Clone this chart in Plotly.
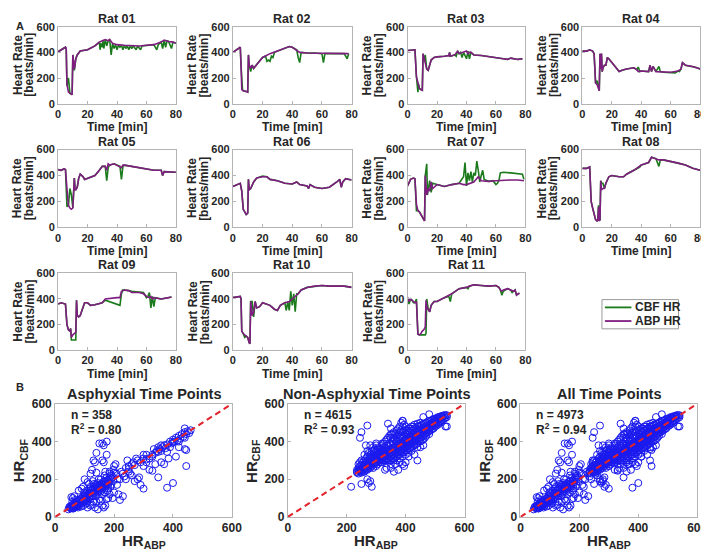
import plotly.graph_objects as go

# ---------------- data ----------------
rat_names = ["Rat 01", "Rat 02", "Rat 03", "Rat 04", "Rat 05", "Rat 06",
             "Rat 07", "Rat 08", "Rat 09", "Rat 10", "Rat 11"]
legend_names = ["CBF HR", "ABP HR"]

# (time [min], heart rate [beats/min]) pairs
rat01_abp = [(0,405),(3,425),(5,440),(5.5,430),(6,150),(7,90),(8,80),(9,75),(9.5,70),(10,380),(10.5,300),(11,270),(12,350),(13,380),(15,410),(20,420),(25,450),(28,480),(30,490),(32,500),(34,490),(35,500),(37,470),(40,460),(45,455),(50,450),(55,450),(60,455),(65,460),(70,480),(72,495),(75,485),(78,480),(80,470)]
rat01_cbf = [(0,405),(3,425),(5,440),(5.5,430),(6,140),(7,200),(7.5,150),(8,80),(9,75),(9.5,70),(10,380),(10.5,300),(11,260),(12,350),(13,380),(15,410),(20,420),(25,450),(28,480),(28.5,420),(29,470),(30,440),(30.5,490),(31,430),(32,500),(33,450),(34,490),(35,500),(36,380),(37,470),(38,430),(39,460),(40,420),(41,455),(42,440),(43,455),(44,420),(45,455),(46,430),(47,450),(48,420),(49,450),(50,430),(51,450),(53,420),(54,450),(56,420),(57,450),(60,455),(65,460),(67,420),(68,460),(70,480),(71,430),(72,495),(73,440),(74,490),(75,485),(77,430),(78,480),(80,470)]

rat02_abp = [(0,400),(3,420),(5,440),(5.5,300),(6,110),(7,100),(8,100),(9,95),(10,90),(10.5,380),(11,300),(12,280),(13,300),(14,275),(15,290),(18,330),(20,360),(25,390),(30,410),(35,430),(38,445),(40,440),(43,420),(45,400),(50,395),(55,395),(60,390),(65,390),(70,390),(75,390),(78,390)]
rat02_cbf = [(0,400),(3,420),(5,440),(5.5,300),(6,150),(6.5,110),(7,100),(8,100),(9,95),(10,90),(10.5,380),(11,300),(12,250),(13,300),(14,275),(15,290),(18,330),(20,360),(22,370),(23,330),(24,340),(25,330),(26,370),(27,360),(28,400),(30,410),(35,430),(38,445),(40,440),(43,420),(44,360),(45,320),(46,400),(50,395),(55,395),(60,390),(61,320),(62,390),(65,390),(70,390),(75,390),(77,350),(78,390)]

rat03_abp = [(0,415),(3,420),(5,420),(6,210),(7,150),(8,120),(9,110),(10,105),(10.5,390),(11,370),(12,330),(13,270),(14,260),(15,300),(16,340),(18,360),(20,365),(25,370),(28,375),(28.5,400),(29,370),(32,380),(34,410),(35,390),(37,400),(40,410),(41,390),(42,400),(43,400),(45,380),(50,375),(55,365),(60,360),(65,350),(68,345),(70,355),(75,345),(78,350)]
rat03_cbf = [(0,415),(3,420),(5,420),(6,210),(7,90),(7.5,150),(8,120),(9,110),(10,105),(10.5,390),(11,330),(12,380),(13,270),(14,260),(15,300),(16,340),(18,360),(20,365),(25,370),(28,375),(28.5,400),(29,370),(32,380),(33,370),(34,410),(35,390),(36,400),(37,360),(38,400),(40,350),(41,410),(42,350),(43,400),(45,380),(50,375),(55,365),(60,360),(65,350),(68,345),(70,355),(75,345),(78,350)]

rat04_abp = [(0,410),(3,410),(5,420),(7,410),(8,390),(8.5,170),(9,160),(10,150),(11,110),(11.5,100),(12,390),(12.5,270),(13,390),(13.5,250),(14,280),(15,300),(16,300),(17,360),(18,350),(20,320),(22,290),(25,250),(27,260),(30,270),(35,280),(37,265),(38,250),(40,255),(45,250),(46,300),(47,250),(48,290),(50,250),(55,245),(60,245),(65,255),(67,270),(68,320),(70,300),(75,290),(78,280),(80,270)]
rat04_cbf = [(0,410),(3,410),(5,420),(7,410),(8,390),(8.5,170),(9,160),(10,180),(11,130),(11.5,100),(12,390),(12.5,270),(13,390),(13.5,250),(14,280),(15,300),(16,300),(17,360),(18,350),(20,320),(22,290),(25,250),(27,260),(30,270),(35,280),(37,265),(38,285),(39,250),(40,255),(45,250),(46,300),(47,250),(48,290),(50,250),(52,290),(53,250),(55,245),(60,245),(63,240),(65,255),(66,250),(67,270),(68,320),(70,300),(75,290),(78,280),(80,270)]

rat05_abp = [(0,445),(2,440),(4,450),(5,445),(6,300),(7,170),(8,150),(9,140),(10,150),(10.5,300),(11,380),(11.5,290),(12,290),(13,310),(14,380),(15,410),(17,390),(18,370),(20,380),(25,400),(28,440),(30,470),(32,470),(33,440),(34,490),(35,480),(38,490),(40,480),(42,470),(43,460),(44,480),(45,480),(50,470),(55,460),(60,450),(65,440),(70,440),(71,400),(72,430),(75,430),(80,425)]
rat05_cbf = [(0,445),(2,440),(4,450),(5,445),(6,160),(7,170),(8,300),(9,250),(10,150),(10.5,300),(11,380),(11.5,290),(12,290),(13,310),(14,380),(15,410),(17,390),(18,370),(20,380),(25,400),(28,440),(30,470),(32,470),(33,360),(34,460),(35,480),(38,490),(40,480),(42,470),(43,370),(44,470),(45,480),(50,470),(55,460),(60,450),(65,440),(70,440),(71,400),(72,430),(75,430),(80,425)]

rat06_abp = [(0,315),(3,330),(5,340),(6,280),(7,140),(8,120),(9,100),(10,110),(10.5,370),(11,290),(12,300),(14,350),(16,380),(20,390),(23,390),(25,370),(30,360),(35,340),(40,335),(43,350),(45,330),(50,320),(51,300),(52,330),(55,310),(60,300),(65,310),(70,350),(72,370),(73,310),(74,350),(76,375),(80,365)]
rat06_cbf = [(0,315),(3,330),(5,340),(6,280),(7,140),(8,120),(9,100),(10,110),(10.5,370),(11,290),(12,300),(14,350),(16,380),(20,395),(23,390),(25,370),(30,360),(35,340),(40,335),(43,350),(45,330),(50,320),(51,300),(52,330),(55,310),(60,300),(65,310),(70,350),(72,370),(73,310),(74,350),(76,375),(80,365)]

rat07_abp = [(0,320),(2,370),(4,380),(5,375),(6,180),(7,130),(8,120),(9,100),(10,80),(11,60),(11.5,50),(12,400),(13,250),(14,300),(15,280),(16,350),(17,300),(20,330),(25,315),(30,330),(35,340),(38,330),(40,330),(45,350),(48,390),(50,360),(55,355),(60,360),(65,365),(70,365),(75,365),(79,360)]
rat07_cbf = [(0,320),(2,370),(4,380),(5,375),(6,130),(7,130),(8,120),(9,100),(10,80),(11,60),(11.5,50),(12,400),(13,490),(13.5,250),(14,300),(15,360),(16,270),(17,340),(20,330),(25,315),(30,330),(35,340),(38,390),(39,500),(40,320),(41,420),(42,360),(43,430),(44,350),(45,420),(46,400),(47,510),(48,440),(49,350),(50,400),(51,440),(52,370),(55,355),(58,360),(60,330),(61,340),(62,360),(63,420),(65,425),(70,420),(75,415),(78,410),(79,370)]

rat08_abp = [(0,455),(3,455),(5,465),(6,200),(7,150),(8,100),(9,60),(10,50),(10.5,55),(11,160),(11.5,50),(12,60),(12.5,360),(13,290),(14,300),(15,300),(16,340),(18,390),(20,400),(25,390),(28,390),(30,410),(35,440),(40,480),(45,500),(47,540),(50,530),(52,520),(55,520),(60,510),(65,495),(70,480),(75,455),(80,440)]
rat08_cbf = [(0,455),(3,455),(5,465),(6,200),(7,150),(8,100),(9,60),(10,50),(10.5,55),(11,170),(11.5,50),(12,60),(12.5,360),(13,340),(14,340),(15,300),(16,340),(18,390),(20,400),(25,390),(28,390),(30,410),(35,440),(39,465),(40,480),(45,500),(47,540),(50,530),(52,470),(53,520),(55,520),(60,510),(65,495),(70,480),(75,455),(80,440)]

rat09_abp = [(0,360),(2,370),(5,360),(6,200),(7,160),(8,150),(8.5,170),(9,100),(10,120),(11,130),(12,140),(12.5,390),(13,270),(14,260),(15,270),(18,370),(20,370),(22,350),(25,355),(30,370),(32,400),(40,410),(42,410),(43,460),(45,470),(48,465),(50,450),(55,450),(58,440),(60,420),(62,410),(63,420),(64,400),(65,410),(70,400),(75,410),(77,415)]
rat09_cbf = [(0,360),(2,370),(5,360),(6,200),(7,160),(8,150),(8.5,170),(9,80),(12,80),(12.5,390),(13,270),(14,260),(15,270),(18,370),(20,370),(22,350),(25,355),(30,370),(32,390),(42,350),(43,440),(44,470),(48,465),(50,460),(58,450),(60,410),(61,420),(62,450),(63,330),(64,420),(65,340),(66,410),(70,400),(75,410),(77,415)]

rat10_abp = [(0,410),(3,415),(5,420),(5.5,400),(6,150),(7,130),(8,120),(9,110),(10,100),(11,60),(11.5,50),(12,380),(13,270),(14,300),(15,380),(16,330),(18,340),(20,370),(22,360),(25,350),(28,320),(30,310),(32,350),(35,370),(38,380),(40,400),(42,420),(44,440),(46,470),(50,490),(55,500),(60,505),(65,500),(70,500),(75,500),(80,490)]
rat10_cbf = [(0,410),(3,415),(5,420),(5.5,400),(6,150),(7,130),(8,100),(9,110),(10,100),(11,60),(11.5,50),(12,380),(13,380),(14,260),(15,380),(16,330),(18,340),(20,370),(22,360),(25,350),(28,320),(30,310),(32,350),(35,370),(36,310),(37,380),(38,310),(39,460),(40,350),(41,440),(42,300),(43,440),(44,440),(46,470),(50,490),(55,500),(60,505),(65,500),(70,500),(75,500),(80,490)]

rat11_abp = [(0,410),(1,380),(2,400),(3,390),(5,370),(6,380),(6.5,150),(7,125),(8,120),(9,130),(10,150),(11,160),(12,180),(12.5,390),(13,340),(14,320),(15,300),(16,350),(18,380),(20,380),(25,410),(30,440),(35,480),(40,490),(42,500),(45,510),(50,505),(55,500),(60,505),(62,490),(63,470),(64,460),(65,470),(68,480),(70,470),(72,460),(73,470),(74,430),(75,440),(76,445)]
rat11_cbf = [(0,410),(1,360),(2,400),(3,390),(4,370),(5,370),(6,400),(6.5,130),(7,125),(8,120),(12,120),(12.5,130),(13,400),(14,320),(15,300),(16,350),(18,380),(20,380),(25,410),(28,420),(29,380),(30,440),(35,480),(40,490),(41,480),(42,500),(45,510),(50,505),(55,500),(60,505),(62,490),(63,470),(64,430),(65,460),(68,480),(70,470),(71,450),(72,460),(73,470),(74,430),(75,440),(76,445)]

# scatter: (HR_ABP, HR_CBF) pairs
asph_points = [(45,40),(50,55),(52,48),(55,60),(58,50),(60,65),(62,45),(65,70),(68,60),(70,80),(72,55),(75,75),(78,90),(80,70),(82,60),(85,95),(88,80),(90,100),(92,75),(95,110),(98,90),(100,85),(102,120),(105,100),(108,140),(110,95),(112,115),(115,130),(118,105),(120,160),(122,125),(125,140),(128,110),(130,150),(132,175),(135,130),(138,160),(140,145),(142,120),(145,180),(148,155),(150,140),(152,170),(155,200),(158,160),(160,145),(162,185),(165,170),(168,130),(170,190),(172,160),(175,210),(178,180),(180,150),(182,200),(185,230),(190,170),(195,210),(200,235),
    (60,100),(55,105),(65,110),(80,140),(100,200),(110,185),(90,150),(95,60),(120,60),(110,50),(105,70),(130,80),(135,50),(140,80),(145,40),(155,85),(165,50),(170,60),(150,95),(130,300),(135,290),(160,300),(165,290),(120,230),(125,250),(150,390),(160,390),(175,400),(165,380),(140,340),(175,330),(195,100),(200,130),(210,170),(215,120),(220,90),(230,110),(240,260),(245,300),(250,240),(240,200),(260,220),(270,190),(280,200),(285,210),(265,290),(275,310),(290,170),(300,150),(310,290),(320,250),(330,245),(340,280),(350,210),(360,290),(370,280),(380,155),(385,310),(400,180),(410,320),(420,370),(440,360),(445,355),(445,270),(230,230),(220,200),(200,270),(205,280),(185,240),(180,100),
    (280,300),(290,290),(300,310),(310,305),(320,310),(330,330),(335,360),(340,340),(345,350),(350,345),(355,360),(360,350),(365,370),(370,380),(375,365),(380,385),(390,400),(395,390),(400,410),(405,400),(410,420),(415,405),(420,430),(425,415),(430,440),(435,425),(440,450),(445,440),(450,455),(455,445),(460,460),(350,370),(360,380),(330,320),(420,400),(440,420),(400,395),(300,270),(250,270),(260,280),(270,275),(380,345),(390,370),(440,470),(300,330),(310,330),
    (60,45),(70,62),(75,58),(85,70),(95,85),(100,110),(115,100),(125,115),(135,150),(140,170),(150,160),(155,135),(160,175),(170,175),(180,170),(190,200),(120,140),(105,90),(130,125),(145,150),
    (48,52),(53,45),(57,62),(63,55),(67,50),(73,68),(77,65),(83,85),(87,75),(93,95),(97,80),(103,105),(107,115),(113,120),(117,125),(123,130),(127,150),(133,140),(137,170),(143,135),(147,165),(153,150),(157,175),(163,160),(167,190),(173,170),(177,195),(183,185),(187,210),(192,220),(197,190),(58,80),(68,90),(78,50),(88,55),(98,130),(108,75),(118,150),(128,190),(138,110),(148,200),(158,120),(168,220),(178,140),(188,160),(198,250),(208,230),(212,200),(225,240),(235,215),(250,255),(255,230),(95,160),(115,175),(125,65),(160,60),(175,95),(185,120),(140,235),(170,240)]

nonasph_cols = [(235,[240,250,235]),(240,[260,230,250,280]),(245,[250,270,240,290]),(250,[255,275,235,300,245]),
    (255,[265,290,250,240]),(260,[270,300,255,280,240,330]),(265,[275,250,310,290,260]),(270,[280,265,320,300,250,350]),
    (275,[285,270,310,260,340,295]),(280,[290,300,275,330,260,380,310]),(285,[295,280,320,310,350,270]),(290,[300,285,330,260,350,310]),
    (295,[310,290,340,280,360]),(300,[305,320,290,350,270,330,380]),(305,[310,330,295,360,280]),(310,[315,300,340,290,370,330]),
    (315,[320,305,345,290,360]),(320,[330,310,350,300,380,290,340]),(325,[335,315,360,300,390]),(330,[340,320,370,310,400,300,350]),
    (335,[345,330,380,300,410,260]),(340,[350,330,380,310,420,300,360]),(345,[355,335,390,320,430,300]),(350,[360,340,380,320,420,300,440,280]),
    (355,[365,345,400,330,440,310]),(360,[370,350,390,330,420,310,450,300]),(365,[375,355,410,340,440,320,280]),(370,[380,360,400,340,430,320,460,300]),
    (375,[385,365,410,345,440,330,470]),(380,[390,370,420,350,450,330,480,310,290]),(385,[395,375,430,355,460,340,500]),(390,[400,380,420,360,450,340,480,320,510,280]),
    (395,[405,385,430,365,460,345,490]),(400,[410,390,440,370,460,350,480,330]),(405,[415,395,440,375,460,355]),(410,[420,400,450,380,470,360,340]),
    (415,[425,405,450,385,470,365]),(420,[430,410,460,390,480,370,350]),(425,[435,415,460,395,480,375]),(430,[440,420,470,400,490,380]),
    (435,[445,425,470,405,385]),(440,[450,430,480,410,495,390,370]),(445,[455,435,480,415,400]),(450,[460,440,485,420,500,400]),
    (455,[465,445,490,425,405]),(460,[470,450,495,430,410]),(465,[475,455,495,440,420]),(470,[480,460,500,445,430]),
    (475,[485,465,505,450]),(480,[490,470,510,455,440]),(485,[495,475,510,460]),(490,[500,480,515,465]),
    (495,[505,485,520,470]),(500,[510,490,520,480]),(505,[515,495,525,485]),(510,[520,500,530,490]),
    (515,[525,505,530]),(520,[525,510,535,500]),(525,[530,515,535]),(530,[535,520,540]),(535,[540,525,480]),(540,[540,530])]
nonasph_outliers = [(215,160),(250,175),(270,200),(275,180),(280,190),(285,160),(245,420),(250,450),(270,485),(265,380),(290,370),(300,390),(320,390),(340,495),(350,470),(360,420),(370,400),(390,510),(460,530),(480,545),(500,500),(540,480),(440,300),(430,330),(395,270),(400,290),(350,260),(330,250),(360,240),(375,250),(410,320),(450,370),(460,380)]

scatter_titles = ["Asphyxial Time Points", "Non-Asphyxial Time Points", "All Time Points"]
scatter_n = ["358", "4615", "4973"]
scatter_r2 = ["0.80", "0.93", "0.94"]

# ---------------- styling / layout ----------------
W, H = 709, 552
GREEN = "#1b7a1b"
PURPLE = "#7f1d80"
BLUE = "#1a1aee"
RED = "#e3232b"
TXT = "#262626"
AX = "#b4b4b4"
FONT = "Liberation Sans, Arial, sans-serif"

col_x = [(48, 168), (226, 347), (404, 524), (582, 702)]
row_y = [(12, 91), (138, 218), (265, 344)]
b_x = [(45, 225), (282, 462), (519, 699)]
b_y = (399, 515)

def fx(p): return p / W
def fy(p): return 1 - p / H

fig = go.Figure()
layout_axes = {}
annotations = []
shapes = []

def axis_style(**kw):
    d = dict(showline=True, linecolor=AX, linewidth=1, mirror=True, ticks="inside",
             ticklen=3, tickcolor=AX, showgrid=False, zeroline=False,
             tickfont=dict(family=FONT, size=11, color=TXT, weight="bold"))
    d.update(kw)
    return d

def ann(text, x, y, size, xanchor="center", yanchor="middle", angle=0):
    annotations.append(dict(text=text, x=fx(x), y=fy(y), xref="paper", yref="paper",
                            showarrow=False, xanchor=xanchor, yanchor=yanchor, textangle=angle,
                            font=dict(family=FONT, size=size, color=TXT, weight="bold")))

rats_abp = [rat01_abp, rat02_abp, rat03_abp, rat04_abp, rat05_abp, rat06_abp,
            rat07_abp, rat08_abp, rat09_abp, rat10_abp, rat11_abp]
rats_cbf = [rat01_cbf, rat02_cbf, rat03_cbf, rat04_cbf, rat05_cbf, rat06_cbf,
            rat07_cbf, rat08_cbf, rat09_cbf, rat10_cbf, rat11_cbf]

for i, name in enumerate(rat_names):
    k = i + 1
    r, c = divmod(i, 4)
    xs = "x" if k == 1 else f"x{k}"
    ys = "y" if k == 1 else f"y{k}"
    cbf = rats_cbf[i]
    abp = rats_abp[i]
    fig.add_trace(go.Scatter(x=[p[0] for p in cbf], y=[p[1] for p in cbf], mode="lines",
                             line=dict(color=GREEN, width=1.6), name=legend_names[0],
                             showlegend=False, xaxis=xs, yaxis=ys, hoverinfo="skip"))
    fig.add_trace(go.Scatter(x=[p[0] for p in abp], y=[p[1] for p in abp], mode="lines",
                             line=dict(color=PURPLE, width=1.6), name=legend_names[1],
                             showlegend=False, xaxis=xs, yaxis=ys, hoverinfo="skip"))
    x0, x1 = col_x[c]
    y0, y1 = row_y[r]
    layout_axes["xaxis" if k == 1 else f"xaxis{k}"] = axis_style(
        domain=[fx(x0), fx(x1)], range=[0, 80], tickvals=[0, 20, 40, 60, 80], anchor=ys)
    layout_axes["yaxis" if k == 1 else f"yaxis{k}"] = axis_style(
        domain=[fy(y1), fy(y0)], range=[0, 600], tickvals=[0, 200, 400, 600], anchor=xs)
    ann(name, (x0 + x1) / 2, y0 - 8, 12.5)
    ann("Heart Rate", x0 - 41, (y0 + y1) / 2, 12, angle=-90)
    ann("[beats/min]", x0 - 29, (y0 + y1) / 2, 12, angle=-90)
    ann("Time [min]", (x0 + x1) / 2, y1 + 24, 12)

# legend box (drawn in the empty 12th cell)
lg_x0, lg_x1, lg_y0, lg_y1 = 602, 680, 292, 322
shapes.append(dict(type="rect", xref="paper", yref="paper", x0=fx(lg_x0), x1=fx(lg_x1),
                   y0=fy(lg_y1), y1=fy(lg_y0), line=dict(color="#9a9a9a", width=1),
                   fillcolor="white"))
for n, (col, yy) in enumerate([(GREEN, 300), (PURPLE, 314)]):
    shapes.append(dict(type="line", xref="paper", yref="paper", x0=fx(605), x1=fx(632),
                       y0=fy(yy), y1=fy(yy), line=dict(color=col, width=1.8)))
    ann(legend_names[n], 634, yy, 12, xanchor="left")

nonasph_points = [(x, y) for x, ys_ in nonasph_cols for y in ys_] + list(nonasph_outliers)
all_points = list(asph_points) + nonasph_points
scatter_sets = [asph_points, nonasph_points, all_points]

for j in range(3):
    k = 12 + j
    xs, ys = f"x{k}", f"y{k}"
    pts = scatter_sets[j]
    fig.add_trace(go.Scatter(x=[p[0] for p in pts], y=[p[1] for p in pts], mode="markers",
                             marker=dict(symbol="circle-open", size=7, color=BLUE,
                                         line=dict(width=1, color=BLUE)),
                             showlegend=False, xaxis=xs, yaxis=ys, hoverinfo="skip"))
    fig.add_trace(go.Scatter(x=[0, 600], y=[0, 600], mode="lines",
                             line=dict(color=RED, width=2, dash="6px,4px"),
                             showlegend=False, xaxis=xs, yaxis=ys, hoverinfo="skip"))
    x0, x1 = b_x[j]
    y0, y1 = b_y
    big_tick = dict(family=FONT, size=12, color=TXT, weight="bold")
    layout_axes[f"xaxis{k}"] = axis_style(domain=[fx(x0), fx(x1)], range=[0, 600],
                                          tickvals=[0, 200, 400, 600], anchor=ys, tickfont=big_tick)
    layout_axes[f"yaxis{k}"] = axis_style(domain=[fy(y1), fy(y0)], range=[0, 600],
                                          tickvals=[0, 200, 400, 600], anchor=xs, tickfont=big_tick)
    ann(scatter_titles[j], (x0 + x1) / 2, y0 - 10, 14.5)
    ann("HR<sub>CBF</sub>", x0 - 36, (y0 + y1) / 2, 15, angle=-90)
    ann("HR<sub>ABP</sub>", (x0 + x1) / 2, 552, 15, yanchor="bottom")
    ann("n = " + scatter_n[j], x0 + 14, y0 + 11, 12, xanchor="left")
    ann("R<sup>2</sup> = " + scatter_r2[j], x0 + 14, y0 + 26, 12, xanchor="left")

ann("A", 9, 11, 11)
ann("B", 9, 382, 11)

fig.update_layout(
    width=W, height=H, margin=dict(l=0, r=0, t=0, b=0),
    paper_bgcolor="white", plot_bgcolor="white",
    font=dict(family=FONT, color=TXT),
    annotations=annotations, shapes=shapes, showlegend=False,
    **layout_axes,
)

fig.write_html("out.html")
